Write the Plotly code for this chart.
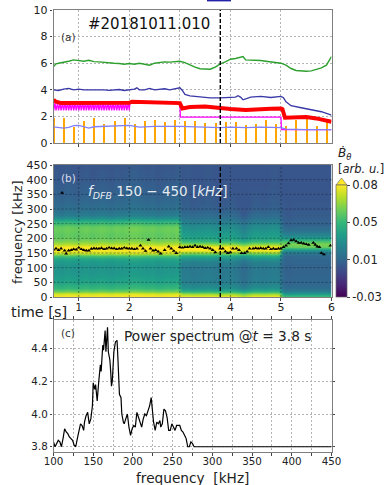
import plotly.graph_objects as go

W, H = 386, 485

# ---------- panel (a) ----------
green_t = [0.5,0.55,0.6,0.7,0.8,0.9,1.0,1.1,1.2,1.3,1.4,1.5,1.6,1.7,1.8,1.9,2.0,2.1,2.2,2.3,2.4,2.5,2.6,2.7,2.8,2.9,3.0,3.1,3.2,3.3,3.4,3.5,3.6,3.7,3.8,3.9,4.0,4.1,4.2,4.25,4.3,4.4,4.5,4.6,4.7,4.8,4.9,5.0,5.1,5.2,5.3,5.4,5.5,5.6,5.7,5.8,5.9,6.0]
green_v = [5.75,5.95,6.0,6.05,6.15,6.25,6.2,6.15,6.22,6.12,6.1,6.05,6.05,6.0,5.98,5.92,5.98,5.92,6.0,5.9,5.85,6.0,6.05,6.1,6.08,6.1,6.15,6.05,5.85,5.7,5.58,5.55,5.55,5.7,5.95,6.1,6.3,6.35,6.45,6.5,6.25,6.25,6.22,6.2,6.15,6.1,6.02,6.0,5.85,5.6,5.45,5.4,5.4,5.42,5.55,5.65,5.85,6.5]
blue_t = [0.5,0.6,0.7,0.8,0.9,1.0,1.1,1.2,1.3,1.4,1.5,1.6,1.7,1.8,1.9,2.0,2.1,2.15,2.2,2.3,2.4,2.5,2.6,2.7,2.8,2.9,3.0,3.05,3.1,3.2,3.4,3.6,3.8,4.0,4.1,4.15,4.2,4.25,4.4,4.6,4.8,5.0,5.05,5.1,5.2,5.4,5.6,5.8,6.0]
blue_v = [4.0,3.95,4.05,4.1,4.0,4.05,4.0,4.0,4.02,3.98,4.0,3.95,4.0,4.02,3.95,4.0,4.05,4.15,4.0,4.0,4.1,4.0,4.02,4.08,4.0,4.1,4.15,3.95,3.65,3.55,3.45,3.4,3.4,3.42,3.45,3.55,3.45,3.25,3.45,3.5,3.42,3.5,3.4,3.1,2.8,2.65,2.5,2.35,2.1]
red_t = [0.5,0.55,0.65,1.0,1.5,2.0,2.05,2.5,2.95,3.0,3.05,3.2,3.5,3.8,4.0,4.3,4.5,4.8,5.0,5.03,5.08,5.2,5.5,5.7,6.0]
red_v = [3.25,3.1,3.0,3.0,3.0,3.02,3.1,3.05,3.05,3.0,2.6,2.7,2.75,2.6,2.55,2.48,2.55,2.58,2.6,2.55,1.9,1.9,1.95,1.85,1.6]
magenta_t = [0.5,0.53,0.55,0.58,0.6,0.63,0.65,0.68,0.7,0.73,0.75,0.78,0.8,0.83,0.85,0.88,0.9,0.93,0.95,0.98,1.0,1.03,1.05,1.08,1.1,1.13,1.15,1.18,1.2,1.23,1.25,1.28,1.3,1.33,1.35,1.38,1.4,1.43,1.45,1.48,1.5,1.53,1.55,1.58,1.6,1.63,1.65,1.68,1.7,1.73,1.75,1.78,1.8,1.83,1.85,1.88,1.9,1.93,1.95,1.98,2.0,2.01,3.0,3.01,5.0,5.01,6.0]
magenta_v = [2.4,3.0,2.45,3.0,2.45,3.0,2.45,3.0,2.45,3.0,2.45,3.0,2.45,3.0,2.45,3.0,2.45,3.0,2.45,3.0,2.45,3.0,2.45,3.0,2.45,3.0,2.45,3.0,2.45,3.0,2.45,3.0,2.45,3.0,2.45,3.0,2.45,3.0,2.45,3.0,2.45,3.0,2.45,3.0,2.45,3.0,2.45,3.0,2.45,3.0,2.45,3.0,2.45,3.0,2.45,3.0,2.45,3.0,2.45,3.0,2.45,3.0,3.0,1.95,1.95,1.0,1.0]
lblue_t = [0.5,0.6,0.7,0.8,0.9,1.0,1.1,1.2,1.3,1.5,1.7,2.0,2.2,2.5,3.0,3.5,3.8,4.0,4.3,4.6,5.0,5.1,5.5,6.0]
lblue_v = [1.22,1.18,1.12,1.18,1.3,1.33,1.25,1.12,1.22,1.25,1.25,1.32,1.2,1.25,1.25,1.22,1.15,1.2,1.15,1.2,1.15,1.05,1.0,1.0]
orange_t = [0.5,0.7,0.9,1.1,1.3,1.5,1.7,1.9,2.1,2.3,2.5,2.7,2.9,3.1,3.3,3.5,3.7,3.9,4.1,4.3,4.5,4.7,4.9,5.1,5.3,5.5,5.7,5.9]
orange_v = [1.9,1.85,1.2,1.65,1.85,1.45,1.65,1.85,1.45,1.65,1.75,1.6,1.7,1.65,1.65,1.5,1.5,1.6,1.55,1.35,1.45,1.7,1.45,1.3,1.75,1.95,1.3,1.75]

# ---------- panel (b) ----------
freq_bins = [0,10,20,30,40,50,60,70,80,90,100,110,120,130,140,150,160,170,180,190,200,210,220,230,240,250,260,270,280,290,300,310,320,330,340,350,360,370,380,390,400,410,420,430,440,450]
level_early = [1.0,.95,.76,.66,.62,.58,.56,.54,.53,.52,.52,.52,.54,.58,.7,.92,1.0,1.0,.88,.8,.76,.75,.76,.77,.76,.7,.62,.5,.42,.39,.37,.35,.34,.33,.32,.31,.31,.3,.3,.29,.29,.28,.28,.28,.27,.27]
level_mid = [1.0,.86,.62,.5,.46,.44,.42,.42,.41,.41,.41,.42,.44,.5,.6,.82,1.0,1.0,.82,.66,.58,.55,.53,.51,.49,.46,.42,.38,.35,.33,.31,.3,.29,.29,.28,.28,.28,.27,.27,.27,.27,.27,.27,.27,.27,.27]
level_late = [.72,.56,.42,.36,.34,.33,.33,.33,.32,.32,.32,.32,.33,.33,.34,.4,.52,.76,.8,.7,.55,.46,.41,.37,.34,.32,.31,.3,.29,.29,.28,.28,.28,.27,.27,.27,.27,.27,.27,.27,.27,.27,.27,.27,.27,.27]
time_cols = [0.55,0.65,0.75,0.85,0.95,1.05,1.15,1.25,1.35,1.45,1.55,1.65,1.75,1.85,1.95,2.05,2.15,2.25,2.35,2.45,2.55,2.65,2.75,2.85,2.95,3.05,3.15,3.25,3.35,3.45,3.55,3.65,3.75,3.85,3.95,4.05,4.15,4.25,4.35,4.45,4.55,4.65,4.75,4.85,4.95,5.05,5.15,5.25,5.35,5.45,5.55,5.65,5.75,5.85,5.95]
col_shift = [.0,-.01,.01,.0,-.01,.0,.01,-.01,.0,.01,.0,-.01,.01,.0,.01,.02,.02,.01,.0,.01,-.01,.0,.01,.0,.02,.0,.01,-.01,.0,.0,.01,.0,-.01,-.01,.0,.0,-.02,-.07,-.03,.0,.0,-.01,.0,.01,.0,.0,-.01,.0,.0,.0,.0,.0,.0,.0,.0]
ridge_t = [0.67,0.5,0.55,0.6,0.65,0.72,0.75,0.8,0.85,0.9,0.95,1.0,1.05,1.1,1.15,1.2,1.25,1.3,1.35,1.4,1.45,1.5,1.55,1.6,1.65,1.7,1.75,1.8,1.85,1.9,1.95,2.0,2.05,2.1,2.15,2.22,2.27,2.32,2.38,2.42,2.47,2.52,2.57,2.62,2.7,2.78,2.83,2.88,2.93,3.0,3.05,3.1,3.15,3.2,3.25,3.3,3.35,3.4,3.45,3.5,3.55,3.6,3.65,3.7,3.8,3.85,3.9,3.95,4.0,4.05,4.12,4.17,4.22,4.28,4.33,4.38,4.45,4.5,4.55,4.6,4.65,4.7,4.75,4.8,4.85,4.9,4.95,5.0,5.05,5.1,5.15,5.2,5.25,5.3,5.35,5.4,5.45,5.5,5.55,5.64,5.68,5.72,5.76,5.8,5.85,5.98]
ridge_f = [355,162,165,160,165,158,148,158,160,163,162,168,163,160,158,158,164,166,165,165,167,163,165,168,166,166,163,165,165,168,166,165,165,163,165,175,165,157,195,165,158,160,155,148,160,172,165,157,150,170,168,170,170,172,170,175,170,172,170,167,168,165,160,152,165,165,155,150,152,165,165,160,150,150,155,165,165,167,165,167,165,165,170,163,165,163,165,165,170,175,183,193,195,190,185,185,182,180,178,185,178,172,170,150,145,175]

# ---------- panel (c) ----------
spec_f = [100,102,104,106,108,110,112,114,116,118,120,122,124,126,128,130,132,134,136,138,139,141,143,145,147,149,150,152,153,155,157,159,160,162,163,165,166,168,169,171,172,173,174,176,178,180,181,183,185,186,188,189,191,193,195,197,199,201,203,205,207,209,211,213,215,217,219,221,223,225,226,228,230,232,234,235,237,239,241,243,245,247,249,251,253,255,257,259,261,263,265,267,269,271,273,275,277,450]
spec_p = [3.83,3.8,3.82,3.84,3.83,3.8,3.85,3.91,3.89,3.88,3.86,3.85,3.84,3.81,3.8,3.85,3.9,3.94,3.93,3.9,3.95,3.99,4.01,3.94,3.97,4.05,4.19,4.15,4.18,4.08,4.2,4.3,4.26,4.42,4.39,4.51,4.38,4.53,4.38,4.33,4.26,4.17,4.2,4.38,4.44,4.45,4.35,4.12,4.1,4.0,3.95,3.94,3.97,4.0,3.92,3.87,3.91,3.93,3.92,4.01,3.98,3.95,3.92,3.97,4.0,3.99,4.02,4.05,4.1,4.0,3.95,3.9,3.95,3.94,3.96,3.92,3.94,4.03,4.02,3.98,3.9,3.9,3.94,3.92,3.9,3.93,3.93,3.93,3.9,3.89,3.87,3.85,3.8,3.8,3.83,3.82,3.8,3.8]

# tick labels
a_yticks = [0,2,4,6,8,10]
b_yticks = [0,50,100,150,200,250,300,350,400,450]
time_ticks = [1,2,3,4,5,6]
c_xticks = [100,125,150,175,200,225,250,275,300,325,350,375,400,425,450]
c_xlabels = ["100","","150","","200","","250","","300","","350","","400","","450"]
c_yticks = [3.8,4.0,4.2,4.4]
cb_vals = [0,1/3,2/3,1]
cb_text = ["-0.03","0.01","0.05","0.08"]

def px_x(p): return p / W
def px_y(p): return 1 - p / H
FONT = "DejaVu Sans"
SPINE = "#7f7f7f"
L, R = 53.5, 331.5

fig = go.Figure()
# panel a
fig.add_bar(x=orange_t, y=orange_v, width=0.026, marker=dict(color="#ffa500", line_width=0), xaxis="x", yaxis="y")
fig.add_scatter(x=magenta_t, y=magenta_v, mode="lines", line=dict(color="#ff00ff", width=1.3), xaxis="x", yaxis="y")
fig.add_scatter(x=red_t, y=red_v, mode="lines", line=dict(color="#ff0000", width=4), xaxis="x", yaxis="y")
fig.add_scatter(x=green_t, y=green_v, mode="lines", line=dict(color="#2ca02c", width=1.4), xaxis="x", yaxis="y")
fig.add_scatter(x=blue_t, y=blue_v, mode="lines", line=dict(color="#3838a8", width=1.3), xaxis="x", yaxis="y")
fig.add_scatter(x=lblue_t, y=lblue_v, mode="lines", line=dict(color="#8080ff", width=1.3), xaxis="x", yaxis="y")

# panel b
BG_FLOOR = 0.27
z = []
for i in range(len(freq_bins)):
    row = []
    for t, s in zip(time_cols, col_shift):
        prof = level_early if t < 3 else (level_mid if t < 5 else level_late)
        row.append(max(BG_FLOOR, min(1, prof[i] + s)))
    z.append(row)
fig.add_heatmap(x=time_cols, y=freq_bins, z=z, zmin=0, zmax=1, colorscale="Viridis", zsmooth="best",
                xaxis="x2", yaxis="y2",
                colorbar=dict(x=px_x(336), xanchor="left", xpad=0, ypad=0, y=px_y(297), yanchor="bottom",
                              len=112/H, lenmode="fraction", thickness=11, thicknessmode="pixels",
                              tickvals=cb_vals, ticktext=cb_text, ticks="outside", ticklen=3, tickcolor="#444",
                              tickfont=dict(family=FONT, size=11.5, color="#222"),
                              outlinecolor="#666", outlinewidth=0.7))
fig.add_scatter(x=ridge_t, y=ridge_f, mode="markers", marker=dict(color="black", size=3.6, symbol="triangle-up"),
                xaxis="x2", yaxis="y2")
# panel c
fig.add_scatter(x=spec_f, y=spec_p, mode="lines", line=dict(color="black", width=1.2), xaxis="x3", yaxis="y3")

shapes = []
for v in b_yticks[1:-1]:
    shapes.append(dict(type="line", xref="x2 domain", yref="y2", x0=0, x1=1, y0=v, y1=v,
                       line=dict(color="rgba(20,20,40,0.55)", width=0.8, dash="2px,2px")))
for v in time_ticks[:-1]:
    shapes.append(dict(type="line", xref="x2", yref="y2 domain", x0=v, x1=v, y0=0, y1=1,
                       line=dict(color="rgba(20,20,40,0.55)", width=0.8, dash="2px,2px")))
for xr, yr in (("x", "y domain"), ("x2", "y2 domain")):
    shapes.append(dict(type="line", xref=xr, yref=yr, x0=3.8, x1=3.8, y0=0, y1=1,
                       line=dict(color="black", width=1.4, dash="4px,2px")))
# colorbar extension triangle and clipped legend key
shapes.append(dict(type="path", xref="paper", yref="paper",
                   path=f"M {px_x(336)} {px_y(185)} L {px_x(347)} {px_y(185)} L {px_x(341.5)} {px_y(178)} Z",
                   fillcolor="#fde725", line=dict(color="#666", width=0.6)))
shapes.append(dict(type="line", xref="paper", yref="paper", x0=px_x(207), x1=px_x(231), y0=px_y(0.6), y1=px_y(0.6),
                   line=dict(color="#2222aa", width=1.6)))

def note(text, x, y, size, color="#222", anchor="left", angle=0, yanchor="middle"):
    return dict(text=text, x=px_x(x), y=px_y(y), xref="paper", yref="paper", showarrow=False,
                xanchor=anchor, yanchor=yanchor, textangle=angle, borderpad=0,
                font=dict(family=FONT, size=size, color=color))

annotations = [
    note("#20181011.010", 87, 24, 15, "#111"),
    note("(a)", 60, 37, 10.5, "#333"),
    note("(b)", 60, 178, 10.5, "#dde"),
    note("<i>f<sub>DFB</sub></i> 150 − 450 [<i>kHz</i>]", 87, 192, 13.5, "#e4ecf2"),
    note("(c)", 60, 333, 10.5, "#333"),
    note("Power spectrum @<i>t</i> = 3.8 s", 123, 336, 13.7, "#222"),
    note("frequency [kHz]", 17, 232, 13, "#222", anchor="center", angle=-90),
    note("time [s]", 10, 312, 14.5, "#222"),
    note("frequency  [kHz]", 192, 478, 13.7, "#222", anchor="center"),
    note("<i>Ḃ<sub>θ</sub></i>", 337, 153, 12, "#222"),
    note("[<i>arb. u.</i>]", 337, 169, 11.5, "#222"),
    note("<i>n<sub>bla</sub></i> [10<sup>19</sup>]", 241, 3, 11.5, "#222", yanchor="bottom"),
]

grid_a = dict(showgrid=True, gridcolor="#b4b4b4", griddash="2px,2px", gridwidth=0.9)
frame = dict(showline=True, linecolor=SPINE, linewidth=1.4, mirror=True, zeroline=False)
framec = dict(showline=True, linecolor=SPINE, linewidth=1.4, mirror="allticks", zeroline=False)
tick = dict(ticks="outside", ticklen=2.5, tickcolor="#444", tickwidth=0.8,
            tickfont=dict(family=FONT, size=11, color="#222"))
tickc = dict(ticks="outside", ticklen=2.5, tickcolor="#444", tickwidth=0.8,
             tickfont=dict(family=FONT, size=10.3, color="#222"))

fig.update_layout(
    width=W, height=H, margin=dict(l=0, r=0, t=0, b=0, autoexpand=False),
    paper_bgcolor="white", plot_bgcolor="white", showlegend=False, bargap=0,
    shapes=shapes, annotations=annotations,
    xaxis=dict(domain=[px_x(L), px_x(R)], range=[0.5, 6], tickvals=time_ticks[:-1], ticktext=[""]*5, anchor="y", **frame, **grid_a, **tick),
    yaxis=dict(domain=[px_y(143), px_y(10)], range=[0, 10], tickvals=a_yticks, anchor="x", **frame, **grid_a, **tick),
    xaxis2=dict(domain=[px_x(L), px_x(R)], range=[0.5, 6], tickvals=time_ticks, anchor="y2", ticklabelstandoff=-3, **frame, **tick),
    yaxis2=dict(domain=[px_y(297), px_y(165)], range=[0, 450], tickvals=b_yticks, anchor="x2", **frame, **tick),
    xaxis3=dict(domain=[px_x(L), px_x(R)], range=[100, 450], tickvals=c_xticks, ticktext=c_xlabels, anchor="y3", ticklabelstandoff=-3, **framec, **grid_a, **tickc),
    yaxis3=dict(domain=[px_y(452), px_y(320)], range=[3.768, 4.574], tickvals=c_yticks, tickformat=".1f", anchor="x3", **framec, **grid_a, **tickc),
)
fig.write_html("out.html", config=dict(displayModeBar=False),
               post_script="document.body.style.margin='0';document.documentElement.style.overflow='hidden';")
